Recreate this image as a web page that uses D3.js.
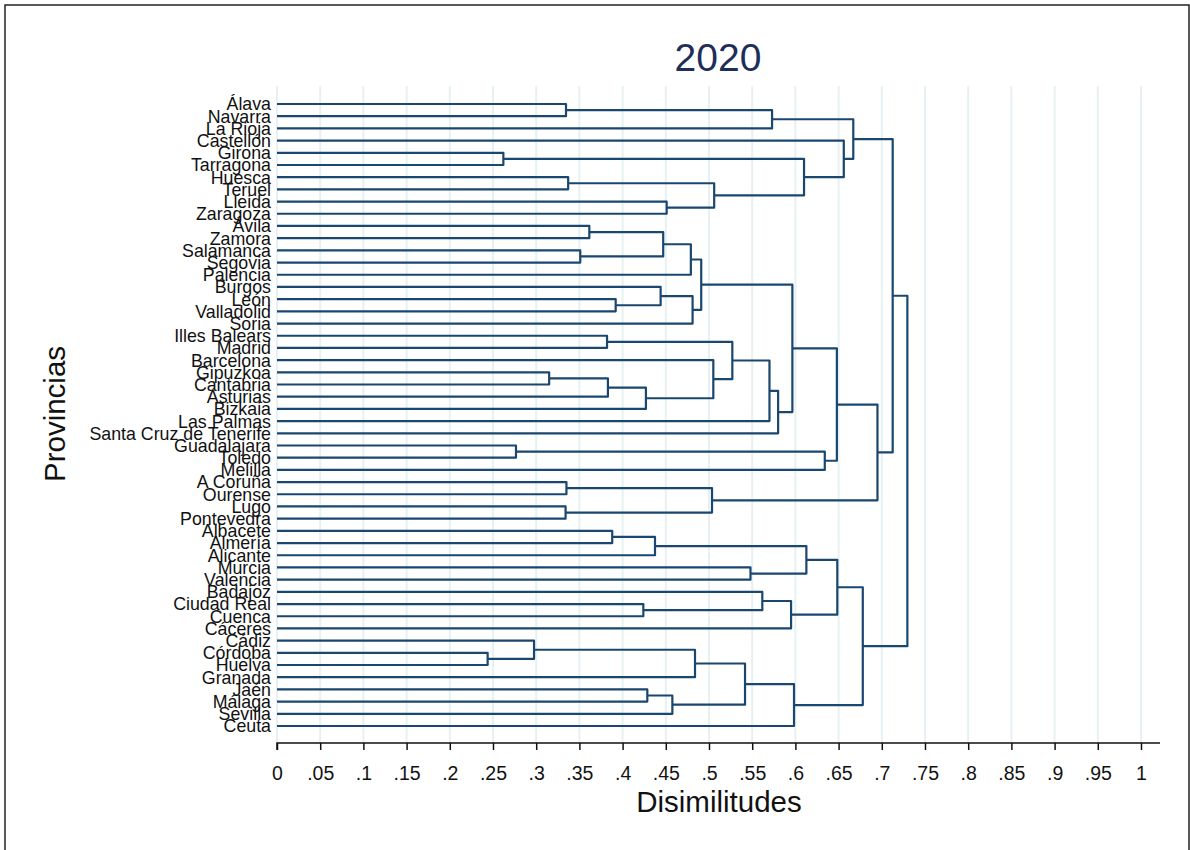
<!DOCTYPE html>
<html>
<head>
<meta charset="utf-8">
<script src="https://cdn.jsdelivr.net/npm/d3@7"></script>
<style>
  body { margin: 0; background: #fff; }
  svg { font-family: "Liberation Sans", Arial, sans-serif; }
</style>
</head>
<body>
<div class="canvas"></div>
<script>
// leaves in display order (top to bottom)
const provincias = [
  'Álava', 'Navarra', 'La Rioja', 'Castellón', 'Girona', 'Tarragona', 'Huesca', 'Teruel',
  'Lleida', 'Zaragoza', 'Ávila', 'Zamora', 'Salamanca', 'Segovia', 'Palencia', 'Burgos',
  'León', 'Valladolid', 'Soria', 'Illes Balears', 'Madrid', 'Barcelona', 'Gipuzkoa', 'Cantabria',
  'Asturias', 'Bizkaia', 'Las Palmas', 'Santa Cruz de Tenerife', 'Guadalajara', 'Toledo', 'Melilla',
  'A Coruña', 'Ourense', 'Lugo', 'Pontevedra', 'Albacete', 'Almería', 'Alicante', 'Murcia',
  'Valencia', 'Badajoz', 'Ciudad Real', 'Cuenca', 'Cáceres', 'Cádiz', 'Córdoba', 'Huelva',
  'Granada', 'Jaén', 'Málaga', 'Sevilla', 'Ceuta'
];

// merges: ids 0..51 are leaves, each merge creates the next id (52, 53, ...)
const mergeLeft  = [0, 52, 4, 6, 8, 55, 54, 3, 53, 10, 12, 61, 63, 16, 15, 66, 64, 19, 22, 70, 71, 21, 69, 74, 75, 68,
                    28, 78, 77, 31, 33, 81, 80, 60, 35, 86, 38, 87, 41, 40, 91, 89, 45, 44, 95, 48, 97, 96, 99, 93, 85];
const mergeRight = [1, 2, 5, 7, 9, 56, 57, 58, 59, 11, 13, 62, 14, 17, 65, 18, 67, 20, 23, 24, 25, 72, 73, 26, 27, 76,
                    29, 30, 79, 32, 34, 82, 83, 84, 36, 37, 39, 88, 42, 90, 43, 92, 46, 94, 47, 49, 50, 98, 51, 100, 101];
const mergeHeight = [0.3345, 0.573, 0.262, 0.337, 0.451, 0.506, 0.610, 0.656, 0.667, 0.3615, 0.351, 0.447, 0.479,
                     0.392, 0.444, 0.481, 0.491, 0.382, 0.315, 0.383, 0.427, 0.505, 0.527, 0.570, 0.580, 0.5965,
                     0.2766, 0.634, 0.648, 0.335, 0.334, 0.5035, 0.695, 0.7126, 0.388, 0.4375, 0.548, 0.6127,
                     0.424, 0.5617, 0.595, 0.6485, 0.2438, 0.2975, 0.4838, 0.4286, 0.4576, 0.5417, 0.5984,
                     0.678, 0.7296];

const xTicks = d3.range(0, 21).map(i => i * 0.05);
const tickLabel = v => v === 0 ? '0' : v === 1 ? '1' : d3.format('.2~f')(v).replace(/^0/, '');

const width = 1190, height = 850;
const margin = {top: 104, right: 49, bottom: 124, left: 277};
const graphWidth = 1141 - margin.left;

const svg = d3.select('.canvas')
    .append('svg')
    .attr('width', width)
    .attr('height', height);

svg.append('rect')
    .attr('x', 5).attr('y', 5)
    .attr('width', 1184).attr('height', 860)
    .attr('fill', '#fff')
    .attr('stroke', '#222')
    .attr('stroke-width', 1.5);

const x = d3.scaleLinear().domain([0, 1]).range([margin.left, margin.left + graphWidth]);
const y = d3.scalePoint().domain(d3.range(provincias.length)).range([104, 726]);

const axisY = 743;

// grid lines
svg.append('g')
    .selectAll('line')
    .data(xTicks)
    .enter().append('line')
    .attr('x1', d => x(d)).attr('x2', d => x(d))
    .attr('y1', 86).attr('y2', axisY)
    .attr('stroke', '#e7f0f2')
    .attr('stroke-width', 2);

// node positions
const nodeY = provincias.map((p, i) => y(i));
const nodeH = provincias.map(() => 0);
mergeLeft.forEach((a, i) => {
    const b = mergeRight[i];
    nodeY.push((nodeY[a] + nodeY[b]) / 2);
    nodeH.push(mergeHeight[i]);
});

const links = mergeLeft.map((a, i) => {
    const b = mergeRight[i];
    const h = mergeHeight[i];
    return `M${x(nodeH[a])},${nodeY[a]}H${x(h)}V${nodeY[b]}H${x(nodeH[b])}`;
});

svg.append('g')
    .selectAll('path')
    .data(links)
    .enter().append('path')
    .attr('d', d => d)
    .attr('fill', 'none')
    .attr('stroke', '#1a476f')
    .attr('stroke-width', 2.2)
    .attr('stroke-linejoin', 'round');

// leaf labels
svg.append('g')
    .selectAll('text')
    .data(provincias)
    .enter().append('text')
    .attr('x', 271)
    .attr('y', (d, i) => y(i))
    .attr('dy', '0.36em')
    .attr('text-anchor', 'end')
    .attr('font-size', 17.8)
    .attr('fill', '#111')
    .text(d => d);

// x axis
const xAxis = d3.axisBottom(x)
    .tickValues(xTicks)
    .tickFormat(tickLabel)
    .tickSize(7)
    .tickPadding(16);

const xAxisGroup = svg.append('g')
    .attr('transform', `translate(0, ${axisY})`)
    .call(xAxis);

xAxisGroup.select('.domain')
    .attr('d', `M${x(0)},7V0H1160`)
    .attr('stroke', '#111')
    .attr('stroke-width', 1.5);
xAxisGroup.selectAll('.tick line').attr('stroke', '#111').attr('stroke-width', 1.5);
xAxisGroup.selectAll('.tick text')
    .attr('font-size', 19.5)
    .attr('font-family', '"Liberation Sans", Arial, sans-serif')
    .attr('fill', '#111');

svg.append('text')
    .attr('x', 719).attr('y', 812)
    .attr('text-anchor', 'middle')
    .attr('font-size', 29.5)
    .attr('fill', '#111')
    .text('Disimilitudes');

svg.append('text')
    .attr('transform', 'translate(65, 414) rotate(-90)')
    .attr('text-anchor', 'middle')
    .attr('font-size', 29.5)
    .attr('fill', '#111')
    .text('Provincias');

svg.append('text')
    .attr('x', 718).attr('y', 71)
    .attr('text-anchor', 'middle')
    .attr('font-size', 39)
    .attr('fill', '#1e2e58')
    .text('2020');
</script>
</body>
</html>
